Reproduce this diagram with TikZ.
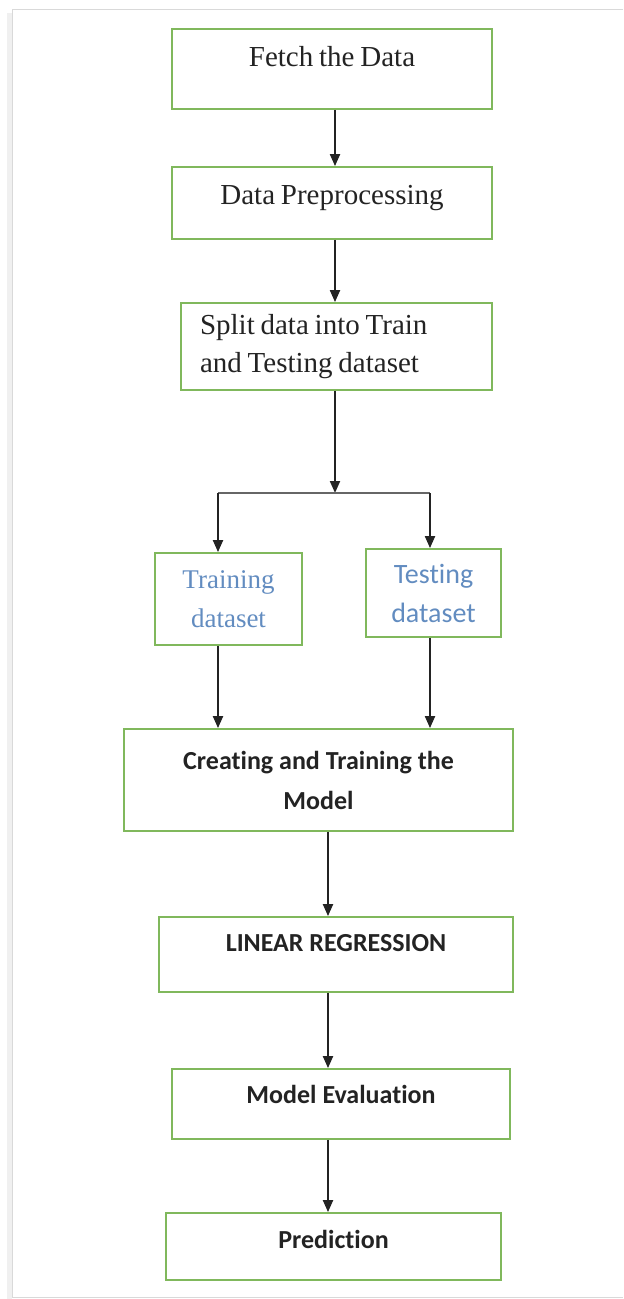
\documentclass[tikz,border=0pt]{standalone}
\usepackage{fontspec}
\setmainfont{Liberation Serif}[WordSpace=0.8]
\newfontfamily\calibri{Carlito}[Ligatures={NoCommon,NoRequired,NoContextual}]
\usepackage{tikz}
\usetikzlibrary{arrows.meta,positioning,calc}
\definecolor{boxgreen}{RGB}{128,184,92}
\definecolor{setblue}{RGB}{98,140,192}
\definecolor{inkgray}{RGB}{35,35,35}
\tikzset{
    >={Triangle[width=5pt,length=6pt]},
    every picture/.style={line width=0.5pt},
    stage/.style={draw=boxgreen,line width=0.9pt,inner sep=0pt,text=inkgray},
    oneline/.style={text height=10pt,text depth=#1},
    serif/.style={font=\fontsize{14.5}{19}\selectfont},
    sans/.style={font=\calibri\bfseries\fontsize{13}{20}\selectfont},
    subset/.style={text=setblue,align=center,font=\fontsize{13.5}{19.5}\selectfont},
    conn/.style={->,line width=1pt,draw=inkgray}
}

\begin{document}
\begin{tikzpicture}[x=0.5pt,y=-0.5pt]
    \useasboundingbox (0,0) rectangle (623,1299);
    \draw[gray!12,line width=2.5pt] (9,13) -- (9,1299);
    \draw[gray!30] (623,10) -- (12,10) -- (12,1297) -- (623,1297);

    \node[stage,serif,oneline=12pt,minimum width=160pt,minimum height=40pt] (fetch) at (332,69) {Fetch the Data};
    \node[stage,serif,oneline=8pt,minimum width=160pt,minimum height=36pt] (prep) at (332,203) {Data Preprocessing};
    \node[stage,serif,align=flush left,inner xsep=9.5pt,text width=136.5pt,minimum height=43.5pt] (divide) at (336.5,346.5) {Split data into Train\\and Testing dataset};
    \node[stage,subset,minimum width=73.5pt,minimum height=46pt] (train) at (228.5,599) {Training\\dataset};
    \node[stage,subset,font=\calibri\fontsize{14}{19.5}\selectfont,minimum width=67.5pt,minimum height=44pt] (test) at (433.5,593) {Testing\\dataset};
    \node[stage,sans,align=center,minimum width=194.5pt,minimum height=51pt] (create) at (318.5,780) {Creating and Training the\\Model};
    \node[stage,sans,oneline=13.5pt,minimum width=177pt,minimum height=37.5pt] (linreg) at (336,954.5) {LINEAR REGRESSION};
    \node[stage,sans,oneline=11pt,minimum width=169pt,minimum height=35pt] (evalm) at (341,1104) {Model Evaluation};
    \node[stage,sans,oneline=8.5pt,minimum width=167.5pt,minimum height=33.5pt] (pred) at (333.5,1246.5) {Prediction};

    \coordinate (fork) at (335,493);
    \coordinate (forkl) at (218,493);
    \coordinate (forkr) at (430,493);
    \coordinate (spine) at (328,0);

    \draw[conn] (fetch.south -| fork) -- (fork |- prep.north);
    \draw[conn] (prep.south -| fork) -- (fork |- divide.north);
    \draw[conn] (divide.south -| fork) -- (fork);
    \draw[line width=0.8pt,draw=gray!80!black] (forkl) -- (forkr);
    \draw[conn] (forkl) -- (forkl |- train.north);
    \draw[conn] (forkr) -- (forkr |- test.north);
    \draw[conn] (train.south -| forkl) -- (forkl |- create.north);
    \draw[conn] (test.south -| forkr) -- (forkr |- create.north);
    \draw[conn] (create.south -| spine) -- (spine |- linreg.north);
    \draw[conn] (linreg.south -| spine) -- (spine |- evalm.north);
    \draw[conn] (evalm.south -| spine) -- (spine |- pred.north);
\end{tikzpicture}
\end{document}
